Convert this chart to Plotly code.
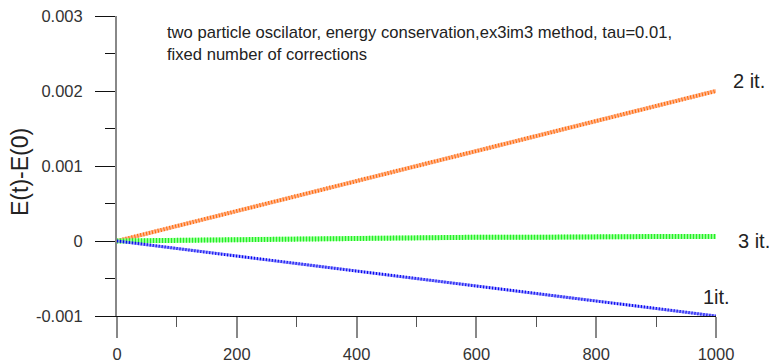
import plotly.graph_objects as go

# time samples
t = [0, 100, 200, 300, 400, 500, 600, 700, 800, 900, 1000]

# energy error E(t)-E(0) for different numbers of corrections
err_1it = [0, -0.0001, -0.0002, -0.0003, -0.00041, -0.00051, -0.0006, -0.0007, -0.0008, -0.0009, -0.001]
err_2it = [0, 0.0002, 0.0004, 0.0006, 0.0008, 0.001, 0.0012, 0.0014, 0.0016, 0.0018, 0.002]
err_3it = [0, 0.00001, 0.00002, 0.00003, 0.00004, 0.00004, 0.00005, 0.00005, 0.00006, 0.00006, 0.00006]

x_ticks = [0, 200, 400, 600, 800, 1000]
y_ticks = [-0.001, 0, 0.001, 0.002, 0.003]
y_tick_text = ["-0.001", "0", "0.001", "0.002", "0.003"]

series = [
    (err_2it, "#ff6a00", "rgba(255,150,100,0.7)", 4),
    (err_3it, "#22ee22", "rgba(120,255,120,0.8)", 5),
    (err_1it, "#0000ee", "rgba(110,110,255,0.7)", 3),
]

fig = go.Figure()
for vals, dark, light, w in series:
    fig.add_trace(go.Scatter(x=t, y=vals, mode="lines",
                             line=dict(color=light, width=w), hoverinfo="skip"))
    fig.add_trace(go.Scatter(x=t, y=vals, mode="lines",
                             line=dict(color=dark, width=w, dash="1px,2px"), hoverinfo="skip"))

fig.update_layout(
    width=775, height=364,
    margin=dict(l=117, r=59, t=16, b=48),
    paper_bgcolor="white", plot_bgcolor="white",
    showlegend=False,
    font=dict(family="Liberation Sans, Arial, sans-serif", color="#333333", size=16),
)

fig.update_xaxes(
    range=[0, 1000], showgrid=False, zeroline=False, automargin=False,
    showline=True, linecolor="#111111", linewidth=1,
    tickmode="array", tickvals=x_ticks,
    ticks="outside", ticklen=21, tickcolor="#888888", tickwidth=2,
    minor=dict(dtick=100, ticks="outside", ticklen=10, tickcolor="#555555", tickwidth=1),
    ticklabelstandoff=2,
    tickfont=dict(size=16.5, color="#333333"),
)
fig.update_yaxes(
    range=[-0.001, 0.003], showgrid=False, zeroline=False, automargin=False,
    showline=True, linecolor="#888888", linewidth=2,
    tickmode="array", tickvals=y_ticks, ticktext=y_tick_text,
    ticks="outside", ticklen=20, tickcolor="#111111", tickwidth=1,
    minor=dict(dtick=0.0005, ticks="outside", ticklen=10, tickcolor="#111111", tickwidth=1),
    ticklabelstandoff=9,
    tickfont=dict(size=16.5, color="#333333"),
)

# y-axis title
fig.add_annotation(xref="paper", yref="paper", x=(20 - 117) / 599, y=(316 - 172) / 300,
                   xanchor="center", yanchor="middle", textangle=-90,
                   text="E(t)-E(0)", showarrow=False, font=dict(size=23, color="#222222"))

fig.add_annotation(
    xref="paper", yref="paper", x=(165 - 117) / 599, y=(316 - 43.5) / 300,
    xanchor="left", yanchor="middle",
    text="two particle oscilator, energy conservation,ex3im3 method, tau=0.01,<br>fixed number of corrections",
    showarrow=False, align="left", font=dict(size=16.6, color="#222222"),
)
fig.add_annotation(xref="paper", yref="paper", x=(731 - 117) / 599, y=(316 - 81) / 300, xanchor="left", yanchor="middle",
                   text="2 it.", showarrow=False, font=dict(size=20, color="#222222"))
fig.add_annotation(xref="paper", yref="paper", x=(736 - 117) / 599, y=(316 - 241) / 300, xanchor="left", yanchor="middle",
                   text="3 it.", showarrow=False, font=dict(size=20, color="#222222"))
fig.add_annotation(xref="paper", yref="paper", x=(701 - 117) / 599, y=(316 - 297) / 300, xanchor="left", yanchor="middle",
                   text="1it.", showarrow=False, font=dict(size=20, color="#222222"))

fig.write_html("out.html")
